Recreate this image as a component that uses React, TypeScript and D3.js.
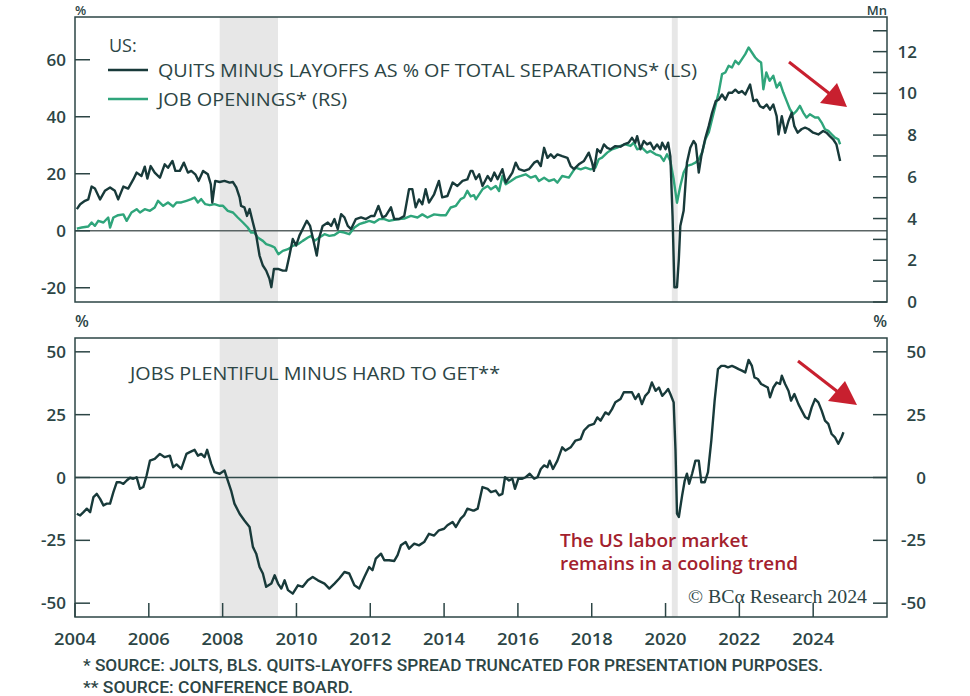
import React from "react";
import * as d3 from "d3";

// ---------- DATA ----------
const quitsMinusLayoffs: [number, number][] = [
  [2004.05,7.6],[2004.14,9.3],[2004.27,10.5],[2004.36,11],[2004.45,15.5],[2004.54,14.8],[2004.68,11],[2004.81,14],[2004.95,15.2],[2005.08,14],[2005.17,11],[2005.31,15.5],[2005.44,14.8],[2005.58,18],[2005.67,20.4],[2005.80,19.2],[2005.89,22.5],[2005.96,18.3],[2006.05,22.7],[2006.16,20.4],[2006.30,18.6],[2006.43,23.3],[2006.52,22.1],[2006.64,24.5],[2006.72,21],[2006.84,21],[2006.95,23.9],[2007.06,20.4],[2007.15,21],[2007.26,19.8],[2007.35,17.5],[2007.47,21],[2007.60,19.8],[2007.68,16.3],[2007.72,9.9],[2007.80,17.5],[2007.92,17.1],[2008.05,17.5],[2008.19,16.9],[2008.28,17.1],[2008.37,15.2],[2008.46,11.7],[2008.50,8.7],[2008.59,8.2],[2008.66,5.2],[2008.73,7.6],[2008.82,2.9],[2008.91,-1.7],[2009.00,-8.7],[2009.09,-12.2],[2009.18,-14],[2009.27,-16.9],[2009.32,-19.8],[2009.39,-13.4],[2009.50,-13.4],[2009.63,-14],[2009.72,-14],[2009.81,-8.7],[2009.90,-2.9],[2009.99,-5.2],[2010.08,-1.7],[2010.17,0.6],[2010.28,3.5],[2010.37,1.7],[2010.44,-2.3],[2010.55,-8.7],[2010.62,-2.3],[2010.71,1.7],[2010.85,2.9],[2010.94,1.7],[2011.03,4.1],[2011.12,0.6],[2011.21,5.8],[2011.30,4.7],[2011.39,1.7],[2011.48,0.6],[2011.61,4.1],[2011.75,4.7],[2011.88,4.1],[2012.02,5.2],[2012.11,5.2],[2012.22,8.7],[2012.33,4.7],[2012.42,5.2],[2012.56,8.2],[2012.65,4.1],[2012.78,4.1],[2012.92,5.2],[2013.05,14.6],[2013.14,14.6],[2013.23,8.2],[2013.32,11],[2013.41,9.3],[2013.50,14.6],[2013.59,9.9],[2013.73,12.8],[2013.86,17.5],[2013.95,11.7],[2014.09,12.2],[2014.23,16.9],[2014.36,15.7],[2014.50,17.5],[2014.63,18],[2014.72,21],
  [2014.77,21],[2014.86,18.1],[2014.95,19.8],[2015.04,15.7],[2015.18,19.2],[2015.27,17.5],[2015.36,20.4],[2015.45,18.1],[2015.58,21.6],[2015.67,16.9],[2015.76,18.6],[2015.85,20.4],[2015.94,23.9],[2016.03,21.6],[2016.17,21],[2016.30,21.6],[2016.44,23.9],[2016.53,24.5],[2016.62,22.7],[2016.71,29.1],[2016.80,25.6],[2016.89,26.8],[2016.98,25.6],[2017.07,26.8],[2017.20,26.2],[2017.34,25.6],[2017.43,22.7],[2017.52,21.6],[2017.65,23.3],[2017.79,24.5],[2017.92,27.4],[2018.01,23.9],[2018.06,21],[2018.15,28.6],[2018.24,27.4],[2018.33,30.3],[2018.42,29.1],[2018.51,28.6],[2018.64,29.7],[2018.78,29.5],[2018.87,30.3],[2019.00,30.9],[2019.09,32.6],[2019.18,30.9],[2019.23,33.2],[2019.32,28.6],[2019.41,31.5],[2019.50,30.3],[2019.59,30.9],[2019.68,28.6],[2019.77,30.3],[2019.86,28.6],[2019.91,30.9],[2020.00,28.6],[2020.07,30.9],[2020.13,26.2],[2020.19,5.2],[2020.24,-19.8],[2020.31,-19.8],[2020.36,-9.9],[2020.40,1.7],[2020.49,7],[2020.58,23.9],[2020.67,29.1],[2020.76,31.5],[2020.82,30.3],[2020.90,20.4],[2020.97,26.2],[2021.08,32.6],[2021.17,36.7],[2021.26,41.4],[2021.36,45.5],[2021.44,46],[2021.53,47.8],[2021.62,46],[2021.71,48.4],[2021.80,48.4],[2021.89,49.5],[2021.98,48.4],[2022.07,49],[2022.16,47.8],[2022.29,51.3],[2022.38,45.5],[2022.47,46],[2022.56,43.7],[2022.65,43.1],[2022.74,44.3],[2022.83,42.5],[2022.92,44.3],[2023.01,40.2],[2023.06,33.8],[2023.15,40.2],[2023.24,34.4],[2023.33,38.5],[2023.42,41.4],[2023.49,36.7],[2023.58,34.4],[2023.69,35.7],[2023.78,36.2],[2023.87,35.7],[2024.00,34.4],[2024.14,33.8],[2024.27,35],[2024.36,34.4],[2024.45,33.2],[2024.54,32.1],[2024.63,30.3],[2024.68,27.4],[2024.73,24.5],
];

const jobOpenings: [number, number][] = [
  [2004.05,3.52],[2004.18,3.57],[2004.36,3.62],[2004.45,3.81],[2004.54,3.65],[2004.63,3.89],[2004.77,3.81],[2004.90,4.05],[2004.95,3.57],[2005.04,4.05],[2005.17,4.16],[2005.31,4.2],[2005.40,3.89],[2005.53,4.29],[2005.67,4.45],[2005.76,4.29],[2005.89,4.45],[2006.03,4.37],[2006.16,4.53],[2006.25,4.85],[2006.39,4.61],[2006.52,4.77],[2006.66,4.58],[2006.75,4.77],[2006.88,4.77],[2007.02,4.85],[2007.15,4.93],[2007.24,5.01],[2007.33,4.77],[2007.42,4.93],[2007.53,4.69],[2007.65,4.64],[2007.78,4.69],[2007.92,4.61],[2008.01,4.61],[2008.14,4.37],[2008.28,4.29],[2008.41,4.05],[2008.55,3.81],[2008.68,3.57],[2008.77,3.33],[2008.86,3.33],[2008.95,3.09],[2009.09,2.93],[2009.18,2.77],[2009.32,2.69],[2009.41,2.61],[2009.51,2.29],[2009.63,2.45],[2009.77,2.53],[2009.90,2.69],[2010.04,2.77],[2010.17,2.93],[2010.31,3.09],[2010.40,3.17],[2010.49,2.93],[2010.62,3.09],[2010.76,3.25],[2010.89,3.17],[2011.03,3.21],[2011.16,3.37],[2011.30,3.33],[2011.43,3.25],[2011.57,3.57],[2011.70,3.73],[2011.84,3.81],[2011.97,3.89],[2012.11,3.81],[2012.24,3.97],[2012.38,3.97],[2012.51,3.89],[2012.65,3.94],[2012.78,3.97],[2012.92,4.0],[2013.10,4.13],[2013.28,4.05],[2013.41,4.2],[2013.55,4.05],[2013.73,4.2],[2013.91,4.16],[2014.05,4.16],[2014.18,4.53],[2014.32,4.61],[2014.45,4.93],[2014.54,5.01],[2014.63,5.33],[2014.72,5.06],[2014.81,5.12],
  [2014.86,4.92],[2014.95,5.16],[2015.04,5.4],[2015.18,5.56],[2015.27,5.4],[2015.40,5.56],[2015.49,5.32],[2015.58,6.04],[2015.67,5.64],[2015.81,5.8],[2015.94,5.96],[2016.08,6.04],[2016.21,6.12],[2016.35,5.96],[2016.48,6.04],[2016.57,5.8],[2016.71,5.96],[2016.84,5.8],[2016.98,5.88],[2017.07,5.72],[2017.20,6.04],[2017.38,5.96],[2017.47,6.2],[2017.56,6.44],[2017.70,6.36],[2017.83,6.44],[2017.97,6.36],[2018.10,6.44],[2018.19,6.84],[2018.28,6.92],[2018.42,7.16],[2018.55,7.32],[2018.69,7.4],[2018.78,7.48],[2018.91,7.56],[2019.05,7.48],[2019.14,7.64],[2019.23,7.32],[2019.36,7.4],[2019.50,7.16],[2019.59,7.24],[2019.73,7.08],[2019.86,7.0],[2019.95,6.76],[2020.04,7.08],[2020.13,6.76],[2020.22,5.88],[2020.31,4.76],[2020.40,5.56],[2020.49,6.2],[2020.58,6.52],[2020.72,6.6],[2020.81,6.68],[2020.90,6.84],[2020.99,7.16],[2021.08,7.8],[2021.17,8.12],[2021.26,8.76],[2021.35,9.4],[2021.44,10.04],[2021.53,10.92],[2021.62,11.0],[2021.71,11.32],[2021.80,11.24],[2021.89,11.56],[2021.98,11.4],[2022.07,11.64],[2022.16,11.88],[2022.25,12.2],[2022.34,11.96],[2022.43,11.72],[2022.52,11.56],[2022.59,11.48],[2022.65,10.2],[2022.73,11.0],[2022.82,10.6],[2022.92,10.84],[2023.01,10.28],[2023.10,10.52],[2023.19,10.04],[2023.28,9.64],[2023.37,9.24],[2023.46,9.0],[2023.55,9.16],[2023.64,9.4],[2023.73,9.08],[2023.82,8.84],[2023.91,9.0],[2024.05,8.84],[2024.14,8.84],[2024.23,8.6],[2024.32,8.28],[2024.41,8.2],[2024.50,8.04],[2024.59,7.88],[2024.68,7.8],[2024.73,7.56],
];

const jobsPlentifulMinusHard: [number, number][] = [
  [2004.05,-14.4],[2004.14,-15.1],[2004.23,-13.8],[2004.32,-12.4],[2004.41,-13.8],[2004.50,-7.8],[2004.59,-6.5],[2004.68,-8.5],[2004.77,-11.1],[2004.86,-10.4],[2004.95,-10.4],[2005.04,-5.8],[2005.13,-1.9],[2005.22,-1.9],[2005.31,-2.5],[2005.40,-1.2],[2005.49,-0.1],[2005.58,-0.5],[2005.67,0.1],[2005.76,-4.5],[2005.85,-3.8],[2005.94,0.8],[2006.03,6.7],[2006.16,7.4],[2006.30,9.4],[2006.43,8.1],[2006.57,8.7],[2006.66,4.1],[2006.75,5.2],[2006.88,3.4],[2007.02,9.4],[2007.11,10.1],[2007.24,11.0],[2007.33,8.7],[2007.42,9.4],[2007.51,8.1],[2007.58,11.0],[2007.69,5.4],[2007.78,2.1],[2007.92,1.5],[2008.05,2.8],[2008.14,-1.2],[2008.23,-5.2],[2008.32,-10.4],[2008.46,-14.4],[2008.59,-17.1],[2008.73,-19.7],[2008.82,-27.6],[2008.91,-30.3],[2009.00,-35.6],[2009.09,-38.2],[2009.18,-43.5],[2009.32,-42.2],[2009.41,-38.9],[2009.50,-42.2],[2009.59,-44.2],[2009.68,-40.9],[2009.77,-44.8],[2009.90,-46.2],[2010.04,-42.9],[2010.17,-43.5],[2010.31,-40.9],[2010.44,-39.6],[2010.58,-40.9],[2010.76,-42.2],[2010.89,-44.2],[2011.03,-42.2],[2011.16,-40.2],[2011.30,-37.6],[2011.43,-38.2],[2011.57,-42.9],[2011.70,-44.2],[2011.84,-39.6],[2011.97,-35.6],[2012.06,-36.9],[2012.15,-32.3],[2012.29,-30.3],[2012.38,-32.9],[2012.51,-32.9],[2012.65,-33.2],[2012.74,-30.9],[2012.83,-27.0],[2012.96,-25.7],[2013.05,-28.3],[2013.19,-26.3],[2013.32,-27.0],[2013.46,-25.7],[2013.59,-22.4],[2013.73,-23.1],[2013.86,-21.0],[2014.00,-20.4],[2014.09,-19.0],[2014.23,-17.7],[2014.32,-19.7],[2014.45,-16.4],[2014.54,-15.1],[2014.63,-12.4],[2014.77,-13.1],
  [2014.82,-13.1],[2014.91,-12.4],[2015.04,-3.8],[2015.18,-4.5],[2015.27,-5.8],[2015.40,-5.2],[2015.49,-7.1],[2015.58,-6.5],[2015.65,0.1],[2015.76,-1.2],[2015.85,-0.5],[2015.92,-4.5],[2016.01,-0.5],[2016.12,-0.5],[2016.21,0.1],[2016.32,1.5],[2016.44,-0.5],[2016.53,0.1],[2016.62,3.4],[2016.71,4.8],[2016.80,4.1],[2016.86,6.7],[2016.95,3.4],[2017.07,6.7],[2017.20,12.0],[2017.29,10.7],[2017.43,12.0],[2017.56,14.7],[2017.70,15.3],[2017.79,18.7],[2017.92,20.6],[2018.06,21.3],[2018.15,23.9],[2018.24,22.6],[2018.37,25.9],[2018.46,25.1],[2018.55,27.2],[2018.64,29.9],[2018.78,31.2],[2018.87,33.9],[2019.00,33.9],[2019.09,33.9],[2019.18,31.2],[2019.27,33.2],[2019.36,29.2],[2019.45,32.5],[2019.54,33.9],[2019.63,37.8],[2019.73,34.5],[2019.82,35.8],[2019.91,32.5],[2020.00,33.9],[2020.07,35.2],[2020.13,33.2],[2020.22,29.9],[2020.27,10.7],[2020.31,-14.4],[2020.36,-15.7],[2020.45,-7.1],[2020.52,-1.2],[2020.58,1.5],[2020.64,-2.5],[2020.72,1.5],[2020.81,6.7],[2020.90,6.7],[2020.97,-1.9],[2021.06,-1.9],[2021.15,2.1],[2021.24,14.7],[2021.33,30.6],[2021.42,43.1],[2021.51,44.4],[2021.60,44.4],[2021.69,43.8],[2021.80,44.4],[2021.89,43.8],[2021.98,43.1],[2022.07,42.5],[2022.16,41.8],[2022.25,46.8],[2022.34,44.4],[2022.41,39.8],[2022.50,39.2],[2022.59,37.2],[2022.68,36.5],[2022.77,35.8],[2022.83,31.9],[2022.92,35.8],[2023.01,37.8],[2023.10,37.2],[2023.15,40.5],[2023.24,37.2],[2023.33,34.5],[2023.40,30.6],[2023.49,33.2],[2023.60,29.2],[2023.69,26.6],[2023.78,24.1],[2023.87,23.3],[2023.96,27.9],[2024.05,31.2],[2024.14,29.9],[2024.23,26.6],[2024.32,22.6],[2024.41,21.3],[2024.50,17.3],[2024.59,16.0],[2024.68,13.4],[2024.77,16.0],[2024.82,18.0],
];

const yearTicks = [2004, 2006, 2008, 2010, 2012, 2014, 2016, 2018, 2020, 2022, 2024];
const topLeftTicks = [-20, 0, 20, 40, 60];
const topRightTicks = [0, 1, 2, 3, 4, 5, 6, 7, 8, 9, 10, 11, 12, 13];
const bottomTicks = [-50, -25, 0, 25, 50];
const recessions: [number, number][] = [[2007.92, 2009.5], [2020.17, 2020.33]];

// ---------- STYLE ----------
const DARK = "#183a3a";
const GREEN = "#2fa57b";
const AXIS = "#2c4545";
const RED = "#c8202f";
const REDTEXT = "#a3212d";
const FONT = "'Open Sans', 'DejaVu Sans', sans-serif";

const L = 75, R = 887;
const T1 = 17, B1 = 302;
const T2 = 338, B2 = 617;

export default function App() {
  const x = d3.scaleLinear().domain([2004, 2026]).range([L, R]);
  const yTopL = d3.scaleLinear().domain([-25, 75]).range([B1, T1]);
  const yTopR = d3.scaleLinear().domain([0, 13.66]).range([B1, T1]);
  const yBot = d3.scaleLinear().domain([-55.5, 55.5]).range([B2, T2]);

  const lineTopL = d3.line<[number, number]>().x(d => x(d[0])).y(d => yTopL(d[1]));
  const lineTopR = d3.line<[number, number]>().x(d => x(d[0])).y(d => yTopR(d[1]));
  const lineBot = d3.line<[number, number]>().x(d => x(d[0])).y(d => yBot(d[1]));

  const tickFont = { fontFamily: FONT, fontSize: 17, fill: AXIS, fontWeight: 600 } as const;

  return (
    <svg width={970} height={696} style={{ position: "absolute", left: 0, top: 0, background: "#fff" }}>
      <rect x={0} y={0} width={970} height={696} fill="#fff" />
      {/* recession shading */}
      {recessions.map((r, i) => (
        <g key={"rec" + i}>
          <rect x={x(r[0])} y={T1} width={x(r[1]) - x(r[0])} height={B1 - T1} fill="#e7e7e7" />
          <rect x={x(r[0])} y={T2} width={x(r[1]) - x(r[0])} height={B2 - T2} fill="#e7e7e7" />
        </g>
      ))}

      {/* zero lines */}
      <line x1={L} x2={R} y1={yTopL(0)} y2={yTopL(0)} stroke="#5a6464" strokeWidth={1.6} />
      <line x1={L} x2={R} y1={yBot(0)} y2={yBot(0)} stroke="#2f4a4a" strokeWidth={1.3} />

      {/* top panel lines */}
      <path d={lineTopR(jobOpenings) || ""} fill="none" stroke={GREEN} strokeWidth={2.4} strokeLinejoin="round" />
      <path d={lineTopL(quitsMinusLayoffs) || ""} fill="none" stroke={DARK} strokeWidth={2.4} strokeLinejoin="round" />

      {/* bottom panel line */}
      <path d={lineBot(jobsPlentifulMinusHard) || ""} fill="none" stroke={DARK} strokeWidth={2.4} strokeLinejoin="round" />

      {/* frames */}
      <rect x={L} y={T1} width={R - L} height={B1 - T1} fill="none" stroke={AXIS} strokeWidth={1.5} />
      <rect x={L} y={T2} width={R - L} height={B2 - T2} fill="none" stroke={AXIS} strokeWidth={1.5} />

      {/* top left axis */}
      {topLeftTicks.map(t => (
        <g key={"tl" + t}>
          <line x1={L} x2={L + 15} y1={yTopL(t)} y2={yTopL(t)} stroke={AXIS} strokeWidth={1.5} />
          <text x={66} y={yTopL(t)} dy="0.36em" textAnchor="end" {...tickFont}>{t}</text>
        </g>
      ))}
      {/* top right axis */}
      {topRightTicks.map(t => (
        <g key={"tr" + t}>
          <line x1={R - 14} x2={R} y1={yTopR(t)} y2={yTopR(t)} stroke={AXIS} strokeWidth={1.5} />
          {t % 2 === 0 && (
            <text x={917} y={yTopR(t)} dy="0.36em" textAnchor="end" {...tickFont}>{t}</text>
          )}
        </g>
      ))}
      <text x={75} y={15} {...tickFont} fontSize={13}>%</text>
      <text x={887} y={15} textAnchor="end" {...tickFont} fontSize={13}>Mn</text>

      {/* bottom axes */}
      {bottomTicks.map(t => (
        <g key={"b" + t}>
          <line x1={L} x2={L + 15} y1={yBot(t)} y2={yBot(t)} stroke={AXIS} strokeWidth={1.5} />
          <line x1={R - 14} x2={R} y1={yBot(t)} y2={yBot(t)} stroke={AXIS} strokeWidth={1.5} />
          <text x={66} y={yBot(t)} dy="0.36em" textAnchor="end" {...tickFont}>{t}</text>
          <text x={926} y={yBot(t)} dy="0.36em" textAnchor="end" {...tickFont}>{t}</text>
        </g>
      ))}
      <text x={75} y={327} {...tickFont} fontSize={16}>%</text>
      <text x={887} y={327} textAnchor="end" {...tickFont} fontSize={16}>%</text>

      {/* x axis */}
      {yearTicks.map(t => (
        <g key={"x" + t}>
          <line x1={x(t)} x2={x(t)} y1={B2} y2={B2 - 14} stroke={AXIS} strokeWidth={1.5} />
          <text x={x(t)} y={645} textAnchor="middle" {...tickFont} fontSize={17} textLength={42} lengthAdjust="spacingAndGlyphs">{t}</text>
        </g>
      ))}

      {/* legend */}
      <text x={109} y={52} fontFamily={FONT} fontSize={18} fontWeight={500} fill={AXIS}>US:</text>
      <line x1={108} x2={148} y1={70} y2={70} stroke={DARK} strokeWidth={2.6} />
      <text x={158} y={77} fontFamily={FONT} fontSize={18} fontWeight={500} fill={AXIS} textLength={539} lengthAdjust="spacingAndGlyphs">
        QUITS MINUS LAYOFFS AS % OF TOTAL SEPARATIONS* (LS)
      </text>
      <line x1={108} x2={148} y1={99} y2={99} stroke={GREEN} strokeWidth={2.6} />
      <text x={158} y={106} fontFamily={FONT} fontSize={18} fontWeight={500} fill={AXIS} textLength={189} lengthAdjust="spacingAndGlyphs">
        JOB OPENINGS* (RS)
      </text>

      <text x={130} y={380} fontFamily={FONT} fontSize={18} fontWeight={500} fill={AXIS} textLength={370} lengthAdjust="spacingAndGlyphs">
        JOBS PLENTIFUL MINUS HARD TO GET**
      </text>

      {/* annotation */}
      <text x={560} y={547} fontFamily={FONT} fontSize={18} fill={REDTEXT} fontWeight={600} textLength={188} lengthAdjust="spacingAndGlyphs">The US labor market</text>
      <text x={560} y={570} fontFamily={FONT} fontSize={18} fill={REDTEXT} fontWeight={600} textLength={238} lengthAdjust="spacingAndGlyphs">remains in a cooling trend</text>
      <text x={688} y={603} fontFamily="'Liberation Serif', 'DejaVu Serif', serif" fontSize={19} fill={AXIS} textLength={179} lengthAdjust="spacingAndGlyphs">© BCα Research 2024</text>

      {/* arrows */}
      <line x1={789} y1={62} x2={830} y2={94} stroke={RED} strokeWidth={3} />
      <polygon points="847,107 820,103 837,83" fill={RED} />
      <line x1={798} y1={361} x2={838} y2={392} stroke={RED} strokeWidth={3} />
      <polygon points="857,405 828,401 845,381" fill={RED} />

      {/* footnotes */}
      <text x={83} y={671} fontFamily="'Liberation Sans Narrow', 'Roboto', sans-serif" fontSize={16} fontWeight={500} fill={AXIS} textLength={740} lengthAdjust="spacingAndGlyphs">
        * SOURCE: JOLTS, BLS. QUITS-LAYOFFS SPREAD TRUNCATED FOR PRESENTATION PURPOSES.
      </text>
      <text x={83} y={693} fontFamily="'Liberation Sans Narrow', 'Roboto', sans-serif" fontSize={16} fontWeight={500} fill={AXIS} textLength={270} lengthAdjust="spacingAndGlyphs">
        ** SOURCE: CONFERENCE BOARD.
      </text>
    </svg>
  );
}
